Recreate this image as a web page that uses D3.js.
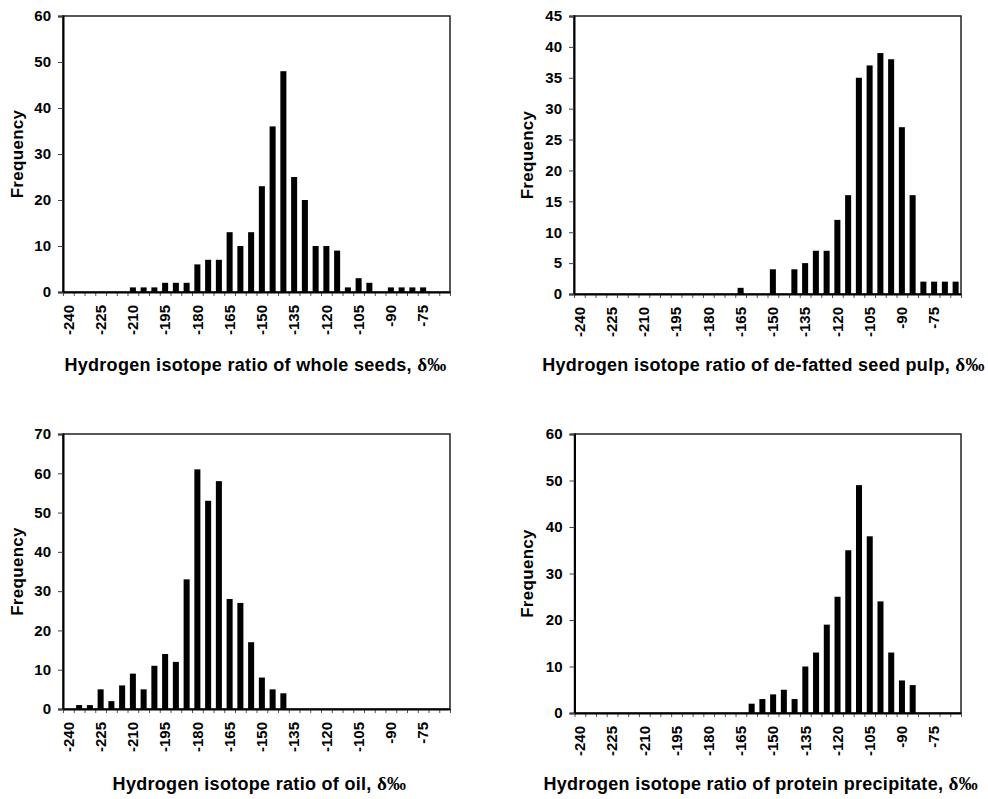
<!DOCTYPE html>
<html>
<head>
<meta charset="utf-8">
<script src="https://cdn.jsdelivr.net/npm/d3@7"></script>
<style>
  body { margin: 0; background: #fff; }
  svg { display: block; }
  text { font-family: "Liberation Sans", Arial, sans-serif; font-weight: bold; fill: #000; }
</style>
</head>
<body>
<svg width="988" height="799"></svg>
<script>
(function (d3) {

  // 5 per mil bins, -240 ... -65
  const bins = [-240, -235, -230, -225, -220, -215, -210, -205, -200, -195, -190, -185,
                -180, -175, -170, -165, -160, -155, -150, -145, -140, -135, -130, -125,
                -120, -115, -110, -105, -100, -95, -90, -85, -80, -75, -70, -65];
  const xTickLabels = [-240, -225, -210, -195, -180, -165, -150, -135, -120, -105, -90, -75];

  const wholeSeeds = [0, 0, 0, 0, 0, 0, 1, 1, 1, 2, 2, 2,
                      6, 7, 7, 13, 10, 13, 23, 36, 48, 25, 20, 10,
                      10, 9, 1, 3, 2, 0, 1, 1, 1, 1, 0, 0];
  const seedPulp   = [0, 0, 0, 0, 0, 0, 0, 0, 0, 0, 0, 0,
                      0, 0, 0, 1, 0, 0, 4, 0, 4, 5, 7, 7,
                      12, 16, 35, 37, 39, 38, 27, 16, 2, 2, 2, 2];
  const oil        = [0, 1, 1, 5, 2, 6, 9, 5, 11, 14, 12, 33,
                      61, 53, 58, 28, 27, 17, 8, 5, 4, 0, 0, 0,
                      0, 0, 0, 0, 0, 0, 0, 0, 0, 0, 0, 0];
  const protein    = [0, 0, 0, 0, 0, 0, 0, 0, 0, 0, 0, 0,
                      0, 0, 0, 0, 2, 3, 4, 5, 3, 10, 13, 19,
                      25, 35, 49, 38, 24, 13, 7, 6, 0, 0, 0, 0];

  const yTicks60 = [0, 10, 20, 30, 40, 50, 60];
  const yTicks45 = [0, 5, 10, 15, 20, 25, 30, 35, 40, 45];
  const yTicks70 = [0, 10, 20, 30, 40, 50, 60, 70];

  const svg = d3.select('svg');

  const histogram = (selection, props) => {
    const { values, yMax, yTicks, title, left, right, top, bottom, titleY, freqX, titleShift } = props;

    const x = d3.scaleBand()
      .domain(bins)
      .range([left, right])
      .paddingInner(0.44)
      .paddingOuter(0.22);

    const xEdge = d3.scaleLinear()
      .domain([0, bins.length])
      .range([left, right]);

    const y = d3.scaleLinear()
      .domain([0, yMax])
      .range([bottom, top]);

    const g = selection.append('g');

    // plot frame
    g.append('rect')
      .attr('x', left).attr('y', top)
      .attr('width', right - left).attr('height', bottom - top)
      .attr('fill', 'none')
      .attr('stroke', '#222')
      .attr('stroke-width', 1.5);

    // bars
    g.selectAll('.bar')
      .data(bins.map((b, i) => ({ bin: b, value: values[i] })).filter(d => d.value > 0))
      .enter().append('rect')
        .attr('class', 'bar')
        .attr('x', d => x(d.bin))
        .attr('width', x.bandwidth())
        .attr('y', d => y(d.value))
        .attr('height', d => bottom - y(d.value))
        .attr('fill', '#000');

    // y axis
    const yAxisG = g.append('g')
      .attr('transform', `translate(${left},0)`)
      .call(d3.axisLeft(y).tickValues(yTicks).tickSize(5).tickPadding(7));
    yAxisG.select('.domain').attr('stroke', '#000').attr('stroke-width', 2);
    yAxisG.selectAll('.tick line').attr('stroke', '#444');
    yAxisG.selectAll('.tick text')
      .style('font-size', '15px')
      .style('font-family', '"Liberation Sans", Arial, sans-serif')
      .style('font-weight', 'bold');

    // x tick marks between bins
    const xTickG = g.append('g')
      .attr('transform', `translate(0,${bottom})`)
      .call(d3.axisBottom(xEdge).tickValues(d3.range(bins.length + 1)).tickSize(4).tickFormat(''));
    xTickG.select('.domain').remove();
    xTickG.selectAll('.tick line').attr('stroke', '#555');

    // x labels under bin centres
    const xAxisG = g.append('g')
      .attr('transform', `translate(0,${bottom})`)
      .call(d3.axisBottom(x).tickValues(xTickLabels).tickSize(0).tickPadding(0));
    xAxisG.select('.domain').attr('stroke', '#000').attr('stroke-width', 2);
    xAxisG.selectAll('.tick text')
      .attr('transform', 'rotate(-90)')
      .attr('text-anchor', 'end')
      .attr('x', -13)
      .attr('y', 0)
      .attr('dy', '0.35em')
      .style('font-size', '15px')
      .style('font-family', '"Liberation Sans", Arial, sans-serif')
      .style('font-weight', 'bold');

    // y title
    g.append('text')
      .attr('transform', `translate(${freqX},${(top + bottom) / 2}) rotate(-90)`)
      .attr('text-anchor', 'middle')
      .attr('dy', '0.35em')
      .style('font-size', '17px')
      .style('letter-spacing', '0.3px')
      .text('Frequency');

    // x title
    const t = g.append('text')
      .attr('x', (left + right) / 2 + titleShift)
      .attr('y', titleY)
      .attr('text-anchor', 'middle')
      .style('font-size', '18px')
      .style('letter-spacing', '0.3px');
    t.append('tspan').text(title + ', ');
    t.append('tspan')
      .style('font-family', '"Liberation Serif", "Times New Roman", serif')
      .style('font-size', '19px')
      .text('δ‰');
  };

  svg.call(histogram, {
    values: wholeSeeds, yMax: 60, yTicks: yTicks60,
    title: 'Hydrogen isotope ratio of whole seeds',
    left: 63, right: 450, top: 16, bottom: 292, titleY: 371, freqX: 17, titleShift: -1
  });

  svg.call(histogram, {
    values: seedPulp, yMax: 45, yTicks: yTicks45,
    title: 'Hydrogen isotope ratio of de-fatted seed pulp',
    left: 574, right: 961, top: 16, bottom: 294, titleY: 371, freqX: 527, titleShift: -4
  });

  svg.call(histogram, {
    values: oil, yMax: 70, yTicks: yTicks70,
    title: 'Hydrogen isotope ratio of oil',
    left: 63, right: 450, top: 434, bottom: 709, titleY: 790, freqX: 17, titleShift: 3
  });

  svg.call(histogram, {
    values: protein, yMax: 60, yTicks: yTicks60,
    title: 'Hydrogen isotope ratio of protein precipitate',
    left: 574.5, right: 961, top: 434, bottom: 713, titleY: 790, freqX: 527, titleShift: -7
  });

}(d3));
</script>
</body>
</html>
